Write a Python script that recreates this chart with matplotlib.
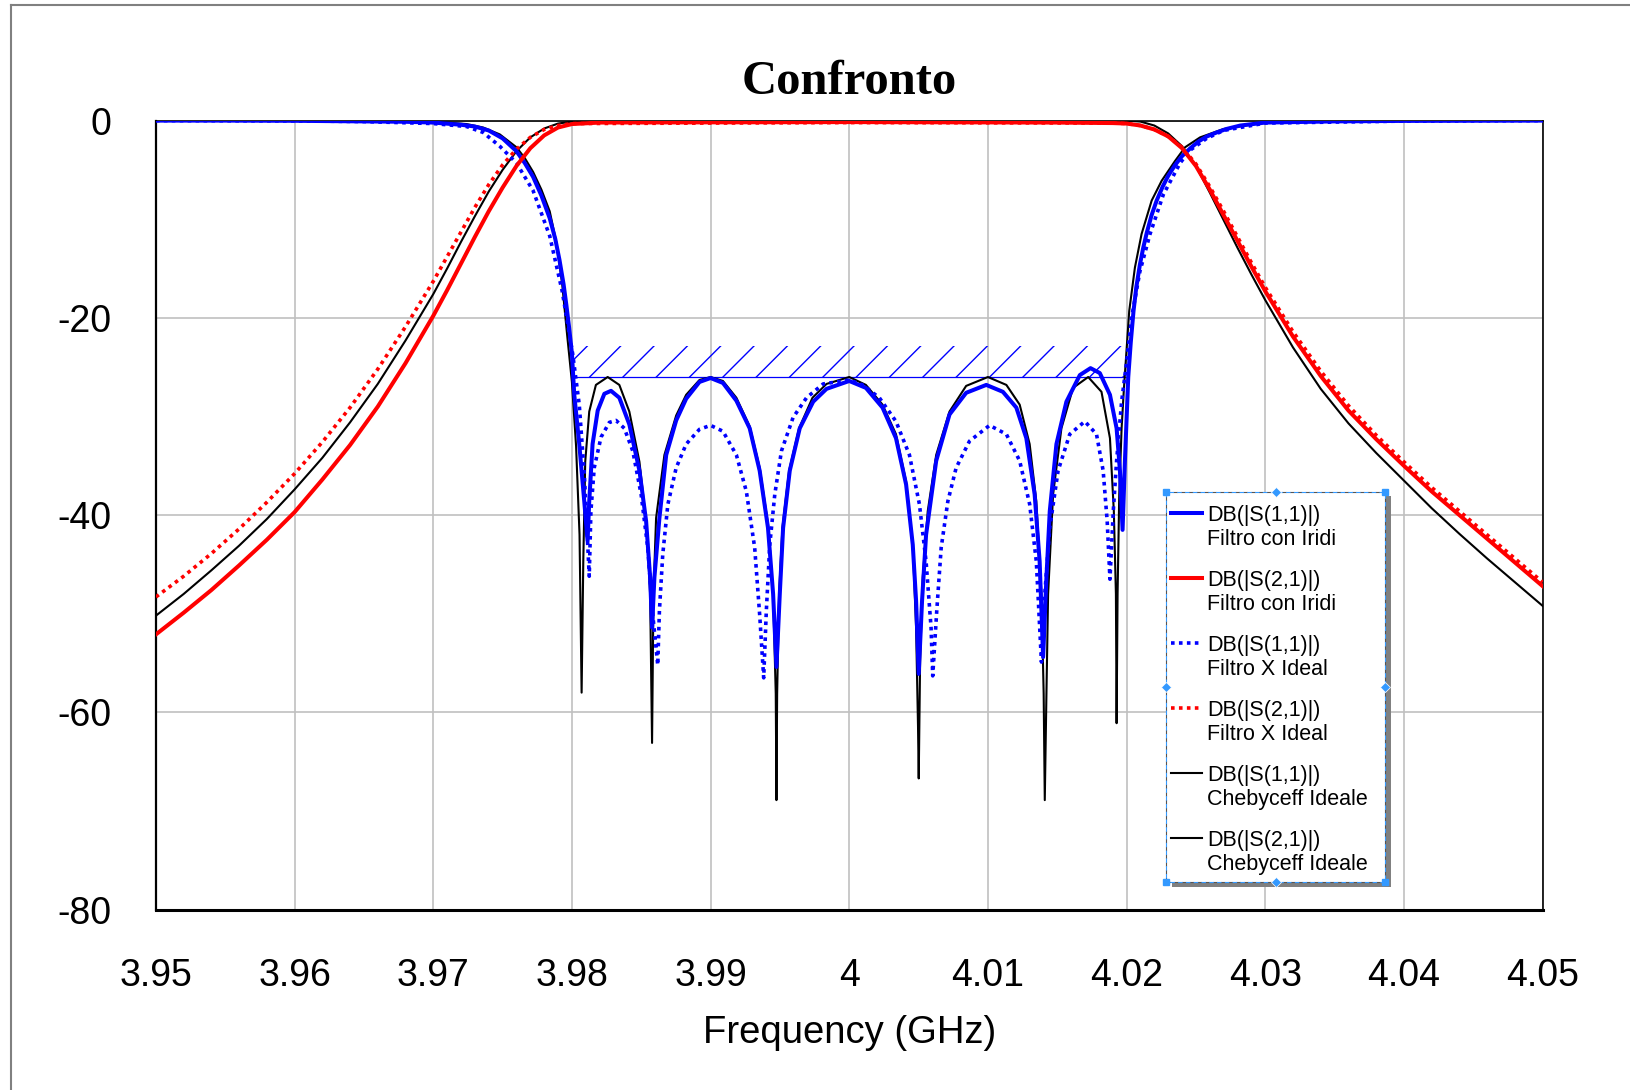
import matplotlib
matplotlib.use("Agg")
import matplotlib.pyplot as plt
from matplotlib.lines import Line2D
from matplotlib.patches import Rectangle

# --- dati (GHz, dB) ---
f_s11_iridi = [3.950, 3.955, 3.960, 3.965, 3.968, 3.970, 3.972, 3.973, 3.974, 3.975,
               3.9760, 3.9766, 3.9772, 3.9778, 3.9784, 3.9788, 3.9791, 3.9794, 3.9796,
               3.9798, 3.9800, 3.98017, 3.98053, 3.98089, 3.98113, 3.98125,
               3.98149, 3.98186, 3.98234, 3.98282, 3.98342, 3.98414, 3.98487, 3.98535,
               3.98564, 3.98578, 3.98595, 3.98631, 3.98680, 3.98752, 3.98824, 3.98920,
               3.99000, 3.99089, 3.99186, 3.99282, 3.99354, 3.99414, 3.99451, 3.99475,
               3.99499, 3.99523, 3.99571, 3.99643, 3.99740, 3.99836, 4.00000, 4.00120,
               4.00240, 4.00337, 4.00410, 4.00458, 4.00482, 4.00501, 4.00525, 4.00554,
               4.00627, 4.00723, 4.00843, 4.00988, 4.01108, 4.01205, 4.01277, 4.01337,
               4.01373, 4.01398, 4.01422, 4.01446, 4.01494, 4.01566, 4.01663, 4.01740,
               4.01807, 4.01880, 4.01928, 4.01952, 4.01971, 4.01988, 4.02012, 4.02030,
               4.02050, 4.02070, 4.02096, 4.02120, 4.02145, 4.02180, 4.02217, 4.02260,
               4.02300, 4.02350, 4.02400, 4.02460, 4.02520, 4.02580, 4.02650, 4.02720,
               4.02820, 4.03000, 4.03500, 4.04000, 4.05000]
s11_iridi = [0.0, 0.0, -0.02, -0.08, -0.12, -0.2, -0.42, -0.6, -1.0, -1.8,
             -3.1, -4.3, -5.7, -7.6, -9.9, -12.0, -14.1, -16.6, -18.7,
             -21.0, -23.6, -27.8, -32.8, -38.6, -42.6, -38.6,
             -32.8, -29.4, -27.7, -27.4, -28.1, -30.8, -35.5, -40.6,
             -46.3, -51.4, -46.3, -40.3, -33.9, -30.4, -28.2, -26.5,
             -26.1, -26.6, -28.4, -31.2, -35.5, -41.3, -48.0, -55.4,
             -48.0, -41.3, -35.5, -31.2, -28.5, -27.2, -26.4, -27.1,
             -29.1, -32.2, -36.9, -43.0, -48.7, -56.1, -48.7, -42.0,
             -34.5, -29.8, -27.6, -26.8, -27.5, -29.1, -32.2, -37.9,
             -44.7, -54.4, -46.3, -39.6, -32.8, -28.5, -25.8, -25.1,
             -25.6, -27.8, -31.2, -35.5, -41.5, -34.5, -26.0, -22.5,
             -19.3, -16.9, -14.6, -12.9, -11.4, -9.6, -8.1, -6.7,
             -5.6, -4.5, -3.6, -2.8, -2.1, -1.6, -1.2, -0.85,
             -0.5, -0.2, -0.08, -0.03, 0.0]

f_s21_iridi = [3.950, 3.952, 3.954, 3.956, 3.958, 3.960, 3.962, 3.964, 3.966, 3.968,
               3.970, 3.971, 3.972, 3.973, 3.974, 3.975, 3.976, 3.977, 3.978, 3.979,
               3.980, 3.982, 4.000, 4.015, 4.019, 4.020, 4.021, 4.022, 4.023, 4.024,
               4.025, 4.026, 4.027, 4.028, 4.029, 4.030, 4.032, 4.034, 4.036, 4.038,
               4.040, 4.042, 4.044, 4.046, 4.048, 4.050]
s21_iridi = [-52.1, -49.9, -47.6, -45.1, -42.5, -39.7, -36.4, -32.9, -29.0, -24.6,
             -19.8, -17.2, -14.5, -11.8, -9.2, -6.8, -4.6, -2.8, -1.5, -0.7,
             -0.35, -0.2, -0.15, -0.2, -0.25, -0.3, -0.5, -0.9, -1.6, -2.8,
             -4.6, -7.0, -9.6, -12.2, -14.8, -17.3, -21.9, -25.9, -29.4, -32.3,
             -35.0, -37.6, -40.0, -42.4, -44.8, -47.2]

f_s11_ideal = [3.950, 3.960, 3.965, 3.970, 3.9724, 3.9736, 3.9748, 3.9760, 3.9772, 3.9784,
               3.9793, 3.98005, 3.98053, 3.98090, 3.98125, 3.98137, 3.98161, 3.98210,
               3.98270, 3.98318, 3.98378, 3.98439, 3.98499, 3.98547, 3.98583, 3.98619,
               3.98631, 3.98655, 3.98692, 3.98752, 3.98824, 3.98920, 3.99000, 3.99089,
               3.99186, 3.99258, 3.99318, 3.99354, 3.99383, 3.99402, 3.99427, 3.99463,
               3.99511, 3.99595, 3.99692, 3.99812, 4.00000, 4.00096, 4.00217, 4.00337,
               4.00434, 4.00506, 4.00554, 4.00590, 4.00602, 4.00631, 4.00663, 4.00711,
               4.00771, 4.00867, 4.01012, 4.01133, 4.01229, 4.01301, 4.01349, 4.01386,
               4.01410, 4.01446, 4.01506, 4.01590, 4.01699, 4.01783, 4.01831, 4.01860,
               4.01880, 4.01904, 4.01928, 4.01964, 4.02000, 4.02036, 4.02096, 4.02169,
               4.02265, 4.02386, 4.02458, 4.02578, 4.02699, 4.03000, 4.04000, 4.05000]
s11_ideal = [0.0, -0.03, -0.1, -0.3, -0.6, -1.2, -2.6, -4.3, -7.1, -11.7,
             -17.3, -23.6, -28.8, -36.0, -46.2, -39.6, -35.2, -32.1,
             -30.6, -30.4, -31.2, -33.5, -37.9, -43.3, -50.1, -55.2,
             -49.7, -44.0, -38.9, -35.2, -32.8, -31.3, -30.9, -31.5,
             -33.9, -37.6, -43.3, -50.1, -56.5, -49.7, -43.0, -37.9,
             -33.5, -30.1, -28.1, -26.7, -26.3, -26.8, -28.1, -30.5,
             -33.9, -38.9, -44.7, -51.4, -56.3, -49.7, -43.3, -38.6,
             -35.2, -32.5, -30.9, -31.8, -34.5, -38.9, -44.7, -54.9,
             -48.0, -41.3, -35.5, -31.8, -30.5, -31.8, -35.5, -40.6,
             -46.5, -39.6, -34.5, -28.5, -24.5, -20.0, -15.3, -11.5,
             -7.5, -4.3, -3.0, -1.8, -1.0, -0.25, -0.05, 0.0]

f_s21_ideal = [3.950, 3.952, 3.954, 3.956, 3.958, 3.960, 3.962, 3.964, 3.966, 3.968,
               3.970, 3.971, 3.972, 3.973, 3.974, 3.975, 3.976, 3.977, 3.978, 3.979,
               3.980, 4.000, 4.019, 4.020, 4.021, 4.022, 4.023, 4.024, 4.025, 4.026,
               4.027, 4.028, 4.029, 4.030, 4.032, 4.034, 4.036, 4.038, 4.040, 4.042,
               4.044, 4.046, 4.048, 4.050]
s21_ideal = [-48.3, -46.2, -43.9, -41.4, -38.7, -35.8, -32.6, -29.1, -25.2, -20.9,
             -16.3, -13.8, -11.3, -8.8, -6.5, -4.5, -2.9, -1.7, -0.9, -0.5,
             -0.3, -0.2, -0.25, -0.3, -0.5, -0.9, -1.6, -2.7, -4.4, -6.7,
             -9.2, -11.8, -14.4, -16.9, -21.4, -25.4, -28.9, -31.9, -34.6, -37.2,
             -39.6, -42.0, -44.4, -46.8]

f_s11_cheb = [3.950, 3.960, 3.965, 3.970, 3.9724, 3.9736, 3.9748, 3.9760, 3.9766, 3.9772,
              3.9778, 3.9784, 3.9789, 3.9793, 3.97966, 3.9800, 3.98030, 3.98055, 3.98070,
              3.98082, 3.98096, 3.98125, 3.98173, 3.98258, 3.98342, 3.98414, 3.98487,
              3.98540, 3.98564, 3.98578, 3.98588, 3.98607, 3.98667, 3.98752, 3.98824,
              3.98920, 3.99000, 3.99089, 3.99186, 3.99282, 3.99354, 3.99414, 3.99451,
              3.99470, 3.99475, 3.99480, 3.99494, 3.99518, 3.99566, 3.99638, 3.99735,
              3.99836, 4.00000, 4.00120, 4.00240, 4.00337, 4.00410, 4.00458, 4.00482,
              4.00496, 4.00501, 4.00511, 4.00530, 4.00566, 4.00627, 4.00723, 4.00843,
              4.01000, 4.01133, 4.01229, 4.01301, 4.01349, 4.01386, 4.01402, 4.01410,
              4.01422, 4.01434, 4.01470, 4.01530, 4.01614, 4.01723, 4.01819, 4.01880,
              4.01908, 4.01923, 4.01928, 4.01935, 4.01947, 4.01964, 4.01981, 4.02019,
              4.02060, 4.02108, 4.02181, 4.02253, 4.02349, 4.02422, 4.02530, 4.02699,
              4.03000, 4.04000, 4.05000]
s11_cheb = [0.0, 0.0, -0.02, -0.1, -0.35, -0.7, -1.4, -2.7, -3.8, -5.2,
            -7.0, -9.2, -12.5, -16.6, -21.8, -26.5, -33.0, -42.0, -58.0,
            -44.7, -34.6, -29.5, -26.8, -26.0, -26.8, -29.5, -34.6,
            -41.3, -48.0, -63.1, -48.0, -40.3, -33.9, -29.9, -27.8,
            -26.3, -26.0, -26.4, -28.1, -31.0, -35.2, -40.9, -48.0,
            -58.1, -68.9, -58.1, -48.0, -41.3, -35.5, -31.2, -28.1,
            -26.7, -26.0, -26.8, -28.8, -31.8, -36.6, -43.0, -51.4,
            -61.5, -66.7, -54.8, -46.3, -39.6, -33.9, -29.5, -26.9,
            -26.0, -26.8, -28.8, -32.8, -38.6, -48.0, -58.1, -68.9,
            -58.1, -48.0, -37.9, -31.2, -27.1, -26.0, -27.5, -32.2,
            -39.6, -48.0, -61.1, -48.0, -37.9, -31.2, -27.1, -19.3,
            -14.9, -11.5, -8.1, -6.1, -4.1, -2.7, -1.7, -0.85,
            -0.17, 0.0, 0.0]

f_s21_cheb = [3.950, 3.952, 3.954, 3.956, 3.958, 3.960, 3.962, 3.964, 3.966, 3.968,
              3.970, 3.971, 3.972, 3.973, 3.974, 3.975, 3.976, 3.977, 3.978, 3.979,
              3.980, 3.981, 4.020, 4.021, 4.022, 4.023, 4.024, 4.025, 4.026, 4.027,
              4.028, 4.029, 4.030, 4.032, 4.034, 4.036, 4.038, 4.040, 4.042, 4.044,
              4.046, 4.048, 4.050]
s21_cheb = [-50.2, -48.0, -45.6, -43.1, -40.4, -37.4, -34.2, -30.6, -26.7, -22.3,
            -17.6, -15.0, -12.3, -9.7, -7.2, -5.0, -3.1, -1.7, -0.8, -0.3,
            -0.1, 0.0, 0.0, -0.1, -0.5, -1.3, -2.6, -4.6, -7.3, -10.1,
            -12.9, -15.6, -18.2, -23.0, -27.2, -30.7, -33.7, -36.5, -39.3, -41.9,
            -44.4, -46.8, -49.2]

# maschera di return loss (zona tratteggiata)
mask_f = [3.98, 4.02]
mask_low = [-26.0, -26.0]
mask_high = [-22.9, -22.9]

x_ticks = [3.95, 3.96, 3.97, 3.98, 3.99, 4.00, 4.01, 4.02, 4.03, 4.04, 4.05]
x_labels = ["3.95", "3.96", "3.97", "3.98", "3.99", "4", "4.01", "4.02", "4.03", "4.04", "4.05"]
y_ticks = [0, -20, -40, -60, -80]

legend_labels = ["DB(|S(1,1)|)\nFiltro con Iridi",
                 "DB(|S(2,1)|)\nFiltro con Iridi",
                 "DB(|S(1,1)|)\nFiltro X Ideal",
                 "DB(|S(2,1)|)\nFiltro X Ideal",
                 "DB(|S(1,1)|)\nChebyceff Ideale",
                 "DB(|S(2,1)|)\nChebyceff Ideale"]

plt.rcParams['font.family'] = ['Liberation Sans', 'DejaVu Sans']
plt.rcParams['axes.unicode_minus'] = False
plt.rcParams['hatch.linewidth'] = 1.0

W, H = 1630, 1090
fig = plt.figure(figsize=(W / 100, H / 100), dpi=100)
AX_L, AX_R, AX_T, AX_B = 155.9, 1542.6, 120.6, 909.6
ax = fig.add_axes([AX_L / W, 1 - AX_B / H, (AX_R - AX_L) / W, (AX_B - AX_T) / H])

dot = (0, (1, 1.2))
styles = [
    (f_s11_cheb, s11_cheb, dict(color='black', lw=1.5, zorder=3)),
    (f_s21_cheb, s21_cheb, dict(color='black', lw=1.5, zorder=3)),
    (f_s11_ideal, s11_ideal, dict(color='#0000ff', lw=2.6, ls=dot, zorder=4)),
    (f_s21_ideal, s21_ideal, dict(color='#ff0000', lw=2.6, ls=dot, zorder=4)),
    (f_s11_iridi, s11_iridi, dict(color='#0000ff', lw=2.9, zorder=5)),
    (f_s21_iridi, s21_iridi, dict(color='#ff0000', lw=2.9, zorder=6)),
]
for fx, fy, kw in styles:
    ax.plot(fx, fy, **kw)

# maschera
ax.fill_between(mask_f, mask_low, mask_high, facecolor='none', edgecolor='#0000ff',
                hatch='/', linewidth=0, zorder=2)
ax.plot(mask_f, mask_low, color='#0000ff', lw=0.9, zorder=2)

ax.set_xlim(3.95, 4.05)
ax.set_ylim(-80, 0)
ax.set_xticks(x_ticks)
ax.set_xticklabels(x_labels)
ax.set_yticks(y_ticks)
ax.tick_params(axis='x', length=0, pad=34.5, labelsize=27)
ax.tick_params(axis='y', length=0, pad=32, labelsize=27)
ax.grid(True, color='#c0c0c0', lw=1.2, zorder=0)
ax.set_axisbelow(True)
for s in ['top', 'right']:
    ax.spines[s].set_linewidth(1.2)
ax.spines['left'].set_linewidth(1.6)
ax.spines['bottom'].set_linewidth(2.2)

ax.set_xlabel("Frequency (GHz)", fontsize=27.5, labelpad=15.5)
fig.text((AX_L + AX_R) / 2 / W, 1 - 93.5 / H, "Confronto", ha='center', va='baseline',
         fontsize=35, fontweight='bold', family=['Liberation Serif', 'DejaVu Serif'])

# cornice esterna
fig.add_artist(Line2D([10.5 / W, 1], [1 - 5 / H, 1 - 5 / H], color='#808080', lw=1.5))
fig.add_artist(Line2D([10.5 / W, 10.5 / W], [0, 1 - 5 / H], color='#808080', lw=1.5))

# legenda disegnata a mano (handle allineato alla prima riga)
def axx(px):
    return (px - AX_L) / (AX_R - AX_L)

def axy(py):
    return 1 - (py - AX_T) / (AX_B - AX_T)

lx0, lx1, ly0, ly1 = 1166, 1385, 491.7, 881.7
tr = ax.transAxes
ax.add_patch(Rectangle((axx(lx1), axy(887.3)), axx(1390.7) - axx(lx1), axy(496) - axy(887.3),
                       transform=tr, facecolor='#808080', edgecolor='none', zorder=9, clip_on=False))
ax.add_patch(Rectangle((axx(1172), axy(887.3)), axx(1390.7) - axx(1172), axy(ly1) - axy(887.3),
                       transform=tr, facecolor='#808080', edgecolor='none', zorder=9, clip_on=False))
ax.add_patch(Rectangle((axx(lx0), axy(ly1)), axx(lx1) - axx(lx0), axy(ly0) - axy(ly1),
                       transform=tr, facecolor='white', edgecolor='#555555', lw=0.8,
                       ls=(0, (4, 3)), zorder=10, clip_on=False))
ax.add_patch(Rectangle((axx(lx0), axy(ly1)), axx(lx1) - axx(lx0), axy(ly0) - axy(ly1),
                       transform=tr, facecolor='none', edgecolor='#3399ff', lw=0.8,
                       ls=(3.5, (4, 3)), zorder=10, clip_on=False))

for i, (lab, (_, _, kw)) in enumerate(zip(legend_labels, [styles[4], styles[5], styles[2],
                                                         styles[3], styles[0], styles[1]])):
    y1 = 513.3 + 65 * i
    kw2 = {k: v for k, v in kw.items() if k != 'zorder'}
    ax.plot([axx(1170.7), axx(1202.3)], [axy(y1), axy(y1)], transform=tr, zorder=11,
            clip_on=False, **kw2)
    top, bottom = lab.split("\n")
    ax.text(axx(1207.3), axy(y1), top, transform=tr, fontsize=15.5, va='center_baseline',
            ha='left', zorder=11)
    ax.text(axx(1207.3), axy(y1 + 23.4), bottom, transform=tr, fontsize=15.5,
            va='center_baseline', ha='left', zorder=11)

# maniglie di selezione
hx = [lx0, lx1, lx0, lx1]
hy = [ly0, ly0, ly1, ly1]
ax.plot([axx(v) for v in hx], [axy(v) for v in hy], ls='none', marker='s', ms=5,
        color='#3399ff', transform=tr, zorder=12, clip_on=False)
dx = [(lx0 + lx1) / 2, (lx0 + lx1) / 2, lx0, lx1]
dy = [ly0, ly1, (ly0 + ly1) / 2, (ly0 + ly1) / 2]
ax.plot([axx(v) for v in dx], [axy(v) for v in dy], ls='none', marker='D', ms=5,
        color='#3399ff', mec='white', mew=0.5, transform=tr, zorder=12, clip_on=False)

fig.savefig("out.png", dpi=100)
